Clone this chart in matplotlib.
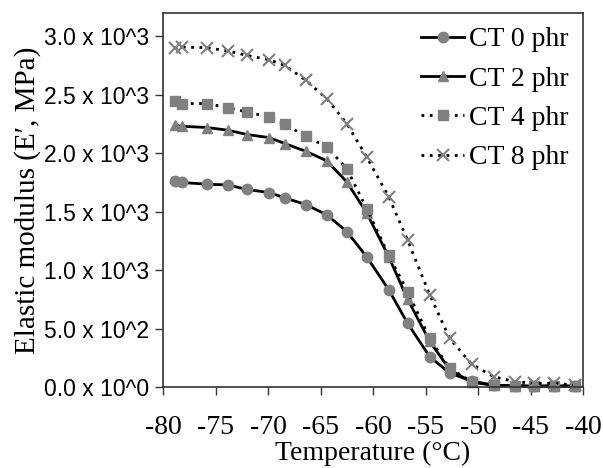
import matplotlib
matplotlib.use('Agg')
import matplotlib.pyplot as plt

# temperature (°C) of each measurement
temp = [-78.9, -78.2, -75.8, -73.8, -72.0, -69.9, -68.4, -66.4, -64.4, -62.5,
        -60.6, -58.5, -56.7, -54.6, -52.7, -50.6, -48.5, -46.5, -44.7, -42.8, -40.8]

# elastic modulus E' (MPa)
ct0 = [1761, 1750, 1735, 1729, 1690, 1664, 1618, 1561, 1473, 1330,
       1114, 832, 544, 259, 120, 50, 15, 8, 5, 5, 5]
ct2 = [2239, 2231, 2220, 2197, 2160, 2134, 2083, 2017, 1935, 1755,
       1490, 1114, 750, 390, 150, 40, 15, 10, 10, 10, 10]
ct4 = [2447, 2425, 2425, 2390, 2353, 2310, 2248, 2145, 2054, 1869,
       1527, 1128, 815, 416, 160, 46, 17, 10, 10, 10, 10]
ct8 = [2903, 2908, 2903, 2875, 2837, 2800, 2752, 2624, 2467, 2254,
       1968, 1627, 1256, 790, 416, 195, 88, 46, 32, 32, 17]

yticks = [0, 500, 1000, 1500, 2000, 2500, 3000]
ytick_labels = ['0.0 x 10^0', '5.0 x 10^2', '1.0 x 10^3', '1.5 x 10^3',
                '2.0 x 10^3', '2.5 x 10^3', '3.0 x 10^3']
xticks = [-80, -75, -70, -65, -60, -55, -50, -45, -40]

serif = 'Liberation Serif'
sans = 'Liberation Sans'
grey = '#808080'
spine_col = '#333333'

fig = plt.figure(figsize=(6.03, 4.68), dpi=100)
ax = fig.add_axes([163/603, 1 - 387/468, 420/603, 374/468])

ax.plot(temp, ct0, color='black', lw=2, ls='-', marker='o', ms=7.5,
        mfc=grey, mec=grey, label='CT 0 phr', clip_on=False)
ax.plot(temp, ct2, color='black', lw=2, ls='-', marker='^', ms=7.5,
        mfc=grey, mec=grey, label='CT 2 phr', clip_on=False)
ax.plot(temp, ct4, color='black', lw=2, ls=(0, (1, 2)), marker='s', ms=7,
        mfc=grey, mec=grey, label='CT 4 phr', clip_on=False)
ax.plot(temp, ct8, color='black', lw=2, ls=(0, (1, 2)), marker='x', ms=9,
        mew=1.5, mfc=grey, mec=grey, label='CT 8 phr', clip_on=False)

ax.set_xlim(-80, -40)
ax.set_ylim(0, 3200)
ax.set_xticks(xticks)
ax.set_xticklabels([str(t) for t in xticks], fontfamily=serif, fontsize=20)
ax.set_yticks(yticks)
ax.set_yticklabels(ytick_labels, fontfamily=sans, fontsize=16.5)
ax.tick_params(axis='x', direction='out', length=6, width=1, color=spine_col, pad=14)
ax.tick_params(axis='y', direction='out', length=6, width=1, color=spine_col, pad=4)

for side in ['left', 'right', 'top', 'bottom']:
    ax.spines[side].set_color(spine_col)
    ax.spines[side].set_linewidth(1.2)

ax.set_xlabel('Temperature (°C)', fontfamily=serif, fontsize=20, labelpad=1)
ax.set_ylabel('Elastic modulus (E\u2032, MPa)', fontfamily=serif, fontsize=21, labelpad=2)

ax.legend(loc='upper right', frameon=False, prop={'family': serif, 'size': 20},
          handlelength=1.55, handletextpad=0.18, labelspacing=0.5,
          borderaxespad=0.1)

fig.savefig('out.png', dpi=100)
